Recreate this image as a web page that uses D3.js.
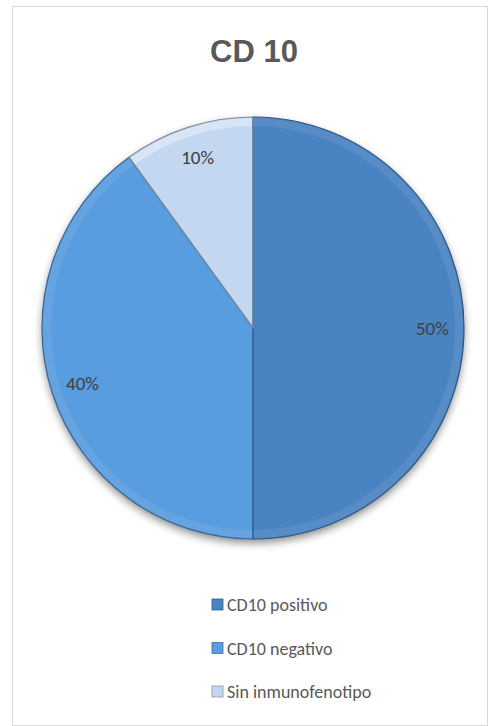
<!DOCTYPE html>
<html><head><meta charset="utf-8">
<script src="https://cdn.jsdelivr.net/npm/d3@7"></script>
<style>html,body{margin:0;padding:0;background:#fff;}svg{display:block;}</style>
</head><body>
<script>
const categories = ["CD10 positivo", "CD10 negativo", "Sin inmunofenotipo"];
const values = [50, 40, 10];
const labels = ["50%", "40%", "10%"];
const colors = ["#4a83c2", "#589ddf", "#c3d7f1"];
const title = "CD 10";

const W = 488, H = 726;
const svg = d3.select("body").append("svg").attr("width", W).attr("height", H);
const defs = svg.append("defs");

const f = defs.append("filter").attr("id","shadow").attr("x","-20%").attr("y","-20%").attr("width","140%").attr("height","140%");
f.append("feGaussianBlur").attr("in","SourceAlpha").attr("stdDeviation",4).attr("result","b");
f.append("feOffset").attr("in","b").attr("dx",0).attr("dy",4).attr("result","o");
f.append("feComponentTransfer").attr("in","o").attr("result","o2").append("feFuncA").attr("type","linear").attr("slope",0.45);
const m = f.append("feMerge"); m.append("feMergeNode").attr("in","o2"); m.append("feMergeNode").attr("in","SourceGraphic");

svg.append("rect").attr("x",12.5).attr("y",6.5).attr("width",W-13).attr("height",H-7)
  .attr("fill","#fff").attr("stroke","#d9d9d9").attr("stroke-width",1);

svg.append("text").attr("x",254).attr("y",62).attr("text-anchor","middle")
  .attr("font-family","'Liberation Sans Narrow','Arial Narrow','Liberation Sans',Arial,sans-serif")
  .attr("font-weight","bold").attr("font-size",31).attr("fill","#595959").text(title);

const cx = 253, cy = 328, R = 211;
const g = svg.append("g").attr("transform",`translate(${cx},${cy})`);
const pie = d3.pie().sort(null).value(d=>d)(values);
const arc = d3.arc().innerRadius(0).outerRadius(R);

g.append("g").attr("filter","url(#shadow)").selectAll("path").data(pie).join("path")
  .attr("d",arc).attr("fill",(d,i)=>colors[i]);

const bevel = d3.arc().innerRadius(R-9).outerRadius(R-1);
g.selectAll(".bev").data(pie).join("path").attr("class","bev")
  .attr("d",bevel).attr("fill","#ffffff").attr("opacity",(d,i)=>i===2?0.35:0.08);
g.selectAll(".edge").data(pie).join("path").attr("class","edge")
  .attr("d",arc).attr("fill","none").attr("stroke",(d,i)=>d3.color(colors[i]).darker(1.2))
  .attr("stroke-width",1.2).attr("stroke-linejoin","round");

const lr = d3.arc().innerRadius(R*0.85).outerRadius(R*0.85);
g.selectAll(".lbl").data(pie).join("text").attr("class","lbl")
  .attr("x",d=>lr.centroid(d)[0]).attr("y",d=>lr.centroid(d)[1])
  .attr("text-anchor","middle").attr("dominant-baseline","central")
  .attr("font-family","Carlito,Lato,'Open Sans',sans-serif").attr("font-size",19).attr("fill","#404040")
  .text((d,i)=>labels[i]);

const leg = svg.append("g").attr("transform","translate(212,0)");
const items = leg.selectAll("g").data(categories).join("g")
  .attr("transform",(d,i)=>`translate(0,${605 + i*43.5})`);
items.append("rect").attr("x",0).attr("y",-6).attr("width",11).attr("height",11)
  .attr("fill",(d,i)=>colors[i]).attr("stroke",(d,i)=>d3.color(colors[i]).darker(1)).attr("stroke-width",0.8);
items.append("text").attr("x",15).attr("y",0).attr("dominant-baseline","central")
  .attr("font-family","Carlito,Lato,'Open Sans',sans-serif").attr("font-size",18).attr("fill","#595959")
  .text(d=>d);
</script>
</body></html>
